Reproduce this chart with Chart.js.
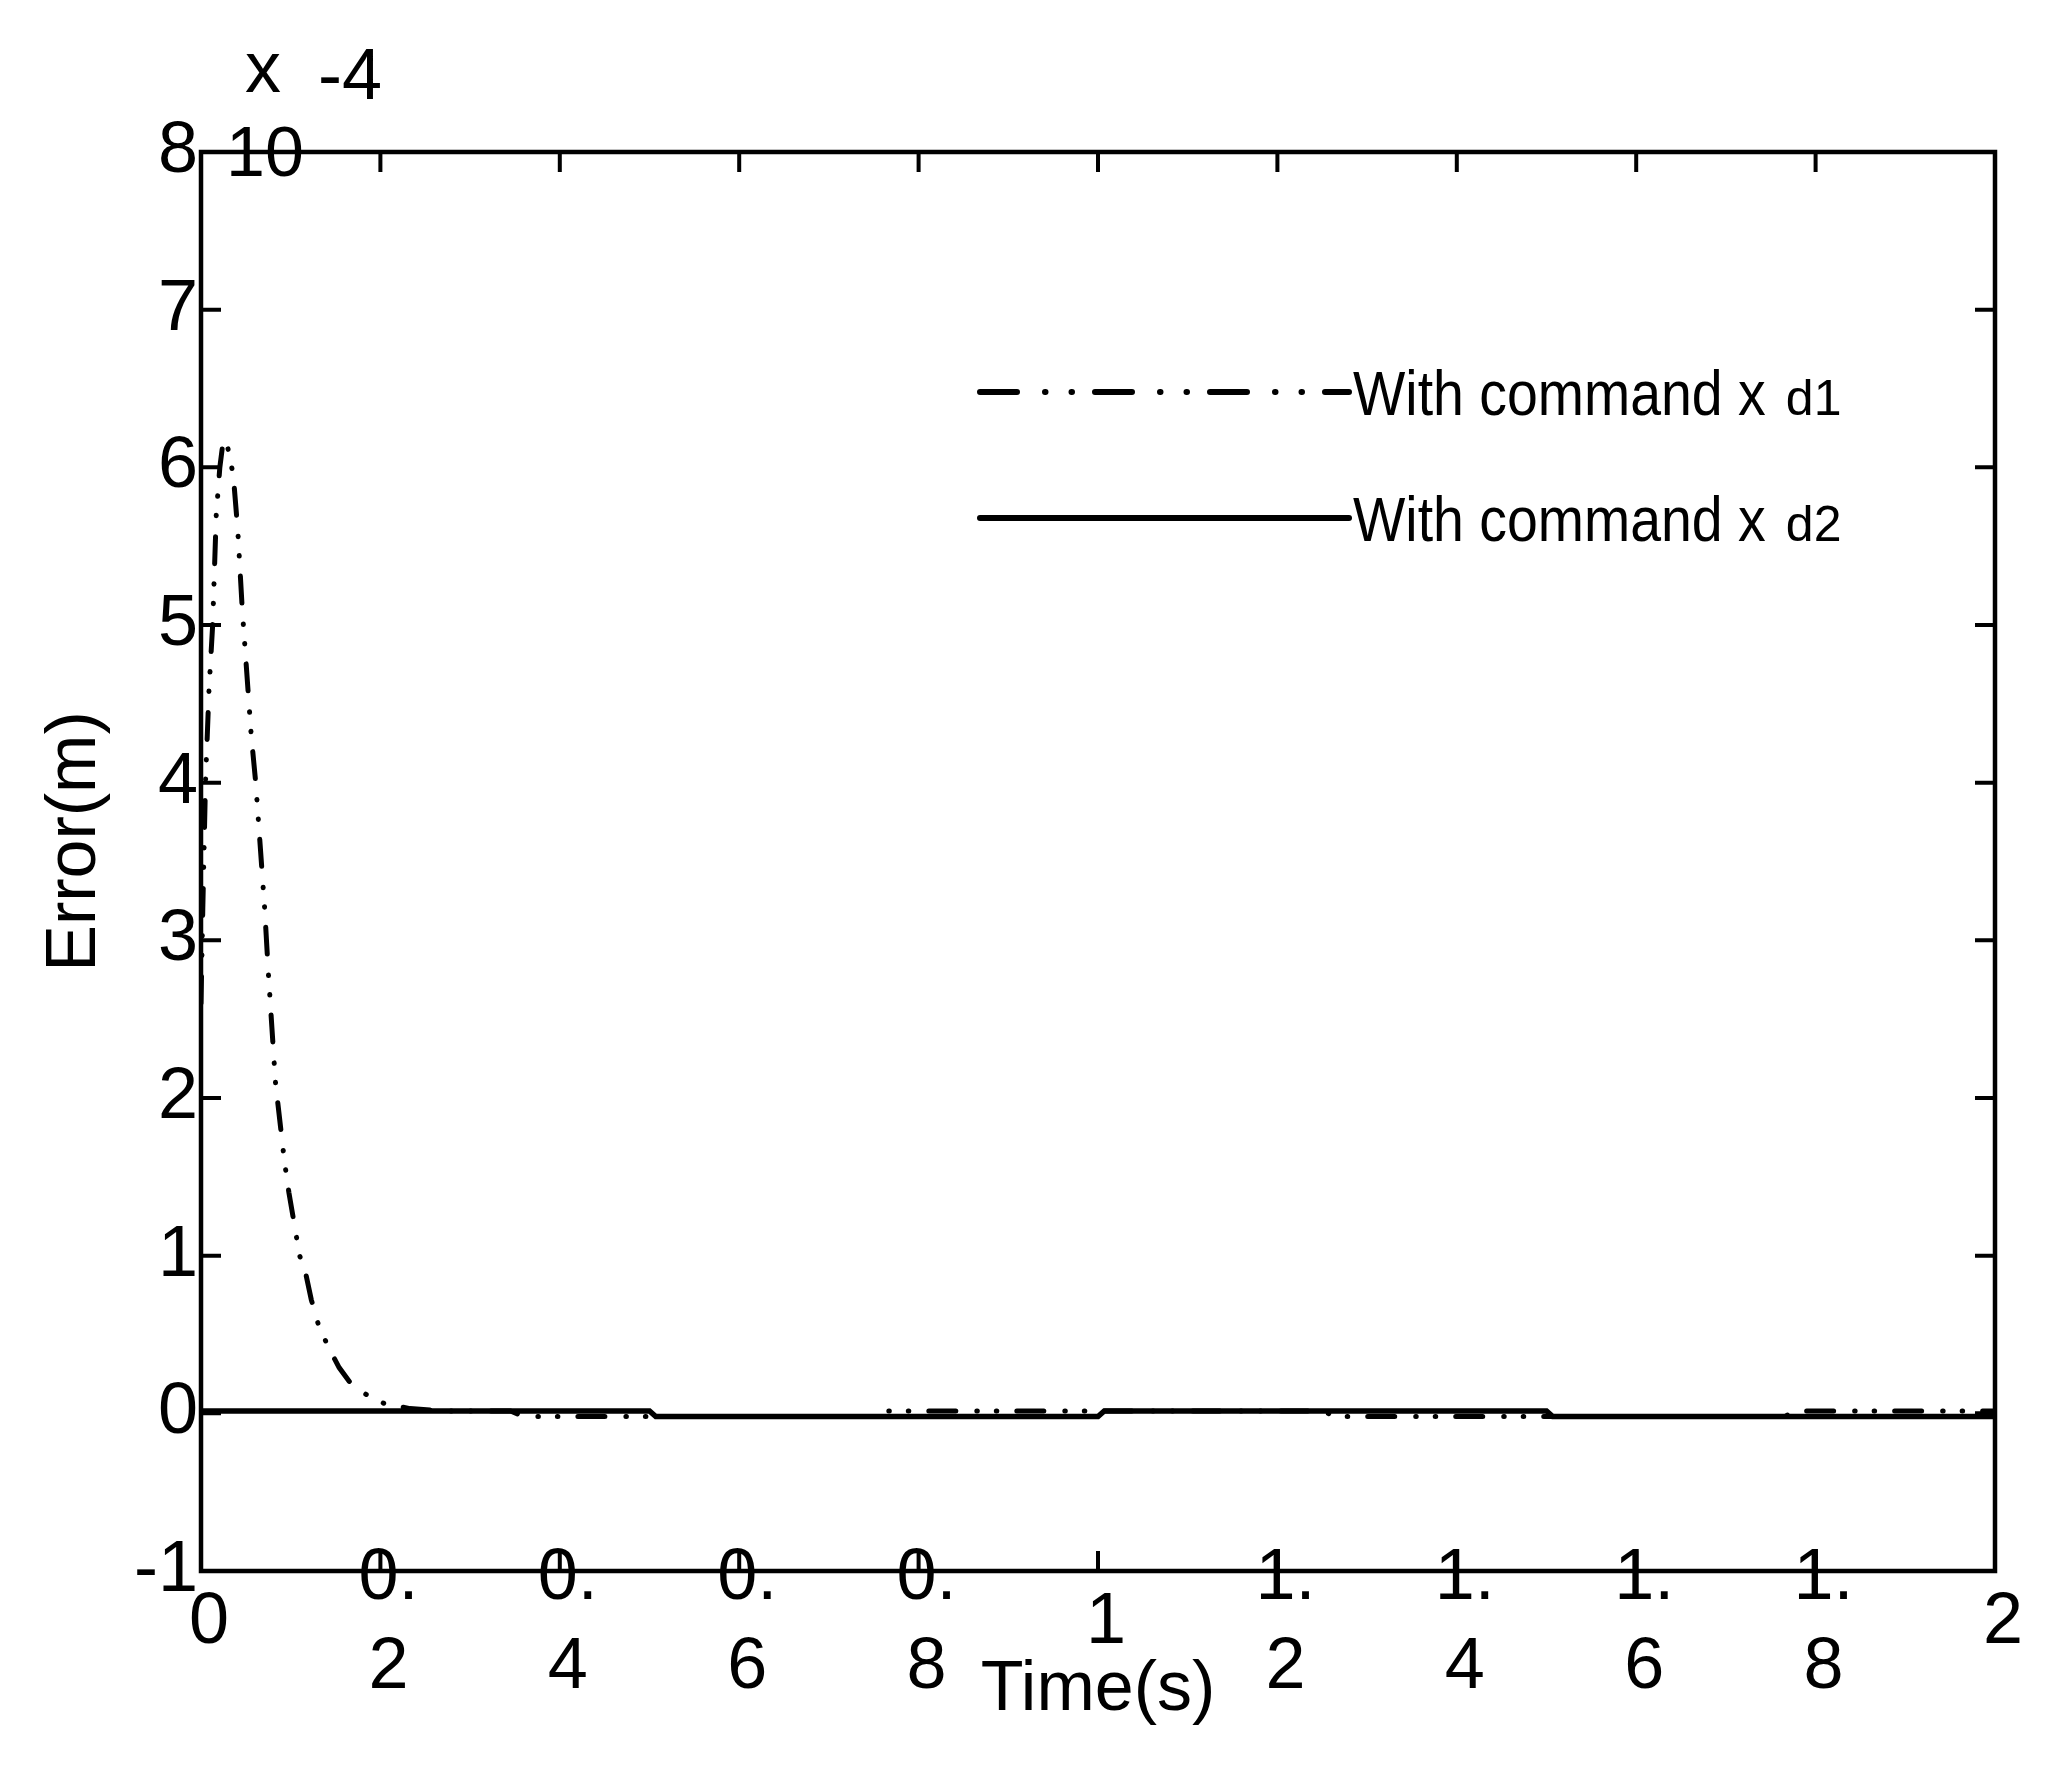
<!DOCTYPE html>
<html>
<head>
<meta charset="utf-8">
<title>Error(m)</title>
<script src="https://cdn.jsdelivr.net/npm/chart.js@4.4.1/dist/chart.umd.min.js"></script>
<style>
  html, body { margin: 0; padding: 0; background: #fff; }
  canvas { display: block; }
</style>
</head>
<body>
<canvas id="myChart" width="2057" height="1773"></canvas>
<script>
// --- values (error in units of 1e-4 m) ---
const timeXd1 = [0, 0.002, 0.005, 0.009, 0.013, 0.017, 0.021, 0.025, 0.030, 0.036,
                 0.041, 0.046, 0.051, 0.056, 0.061, 0.066, 0.071, 0.075, 0.079, 0.083,
                 0.088, 0.093, 0.098, 0.104, 0.110, 0.117, 0.123, 0.131, 0.142, 0.154,
                 0.167, 0.184, 0.205, 0.233, 0.27, 0.345, 0.36, 0.75, 0.765, 1.25,
                 1.265, 1.765, 1.78, 2.0];
const errXd1  = [2.6, 3.2, 4.0, 4.6, 5.0, 5.7, 6.0, 6.18, 6.12, 5.95,
                 5.6, 5.1, 4.7, 4.3, 4.0, 3.6, 3.2, 2.8, 2.45, 2.1,
                 1.85, 1.6, 1.4, 1.2, 1.0, 0.88, 0.72, 0.56, 0.42, 0.29,
                 0.19, 0.12, 0.06, 0.03, 0.015, 0.015, -0.02, -0.02, 0.015, 0.015,
                 -0.02, -0.02, 0.015, 0.015];

const timeXd2 = [0, 0.5, 0.507, 1.0, 1.007, 1.5, 1.507, 2.0];
const errXd2  = [0.015, 0.015, -0.02, -0.02, 0.015, 0.015, -0.02, -0.02];

// --- axes ---
const xTicks = [0, 0.2, 0.4, 0.6, 0.8, 1, 1.2, 1.4, 1.6, 1.8, 2];
const xTickLabels = [['0'], ['0.', '2'], ['0.', '4'], ['0.', '6'], ['0.', '8'], ['1'],
                     ['1.', '2'], ['1.', '4'], ['1.', '6'], ['1.', '8'], ['2']];
const yTicks = [-1, 0, 1, 2, 3, 4, 5, 6, 7, 8];

const seriesNames = ['With command x', 'With command x'];
const seriesSubs  = ['d1', 'd2'];

const FONT = "'Liberation Sans', Arial, Helvetica, sans-serif";
const dashPlot   = [27, 21, 0.5, 19, 0.5, 20];
const dashLegend = [37, 28, 0.5, 26, 0.5, 23];

const toPoints = (ts, vs) => ts.map((t, i) => ({ x: t, y: vs[i] }));

// --- frame, inside ticks, exponent, y title and legend drawn on the canvas ---
const decorPlugin = {
  id: 'decor',
  afterDraw(chart) {
    const { ctx, chartArea: a, scales: { x, y } } = chart;
    ctx.save();
    ctx.strokeStyle = '#000';
    ctx.fillStyle = '#000';

    // box
    ctx.lineWidth = 4.5;
    ctx.strokeRect(a.left, a.top, a.right - a.left, a.bottom - a.top);

    // inward ticks on all four sides
    ctx.lineWidth = 4;
    ctx.beginPath();
    xTicks.forEach(v => {
      const px = x.getPixelForValue(v);
      ctx.moveTo(px, a.bottom); ctx.lineTo(px, a.bottom - 20);
      ctx.moveTo(px, a.top);    ctx.lineTo(px, a.top + 20);
    });
    yTicks.forEach(v => {
      const py = y.getPixelForValue(v);
      ctx.moveTo(a.left, py);  ctx.lineTo(a.left + 20, py);
      ctx.moveTo(a.right, py); ctx.lineTo(a.right - 20, py);
    });
    ctx.stroke();

    // exponent label "x 10^-4" the way it shows in the figure
    ctx.font = '72px ' + FONT;
    ctx.textAlign = 'left';
    ctx.textBaseline = 'alphabetic';
    ctx.fillText('x', 245, 92);
    ctx.fillText('-4', 318, 99);
    ctx.font = '70px ' + FONT;
    ctx.fillText('10', 226, 176);

    // y axis title
    ctx.save();
    ctx.translate(76, (a.top + a.bottom) / 2 - 20);
    ctx.rotate(-Math.PI / 2);
    ctx.textAlign = 'center';
    ctx.textBaseline = 'middle';
    ctx.font = '70px ' + FONT;
    ctx.fillText('Error(m)', 0, 0);
    ctx.restore();

    // legend
    const rows = [392, 518];
    chart.data.datasets.forEach((ds, i) => {
      const ly = rows[i];
      ctx.save();
      ctx.lineWidth = 6;
      ctx.lineCap = 'round';
      ctx.setLineDash(ds.borderDash && ds.borderDash.length ? dashLegend : []);
      ctx.beginPath();
      ctx.moveTo(980, ly);
      ctx.lineTo(1349, ly);
      ctx.stroke();
      ctx.restore();

      ctx.save();
      ctx.translate(1353, ly + 23);
      ctx.font = '63px ' + FONT;
      const w = ctx.measureText(seriesNames[i]).width * 0.88;
      ctx.save();
      ctx.scale(0.88, 1);
      ctx.fillText(seriesNames[i], 0, 0);
      ctx.restore();
      ctx.font = '50px ' + FONT;
      ctx.fillText(seriesSubs[i], w + 20, 0);
      ctx.restore();
    });
    ctx.restore();
  }
};

const ctx = document.getElementById('myChart').getContext('2d');
const chart = new Chart(ctx, {
  type: 'line',
  data: {
    datasets: [{
      label: 'With command xd1',
      data: toPoints(timeXd1, errXd1),
      borderColor: '#000',
      borderWidth: 5,
      borderDash: dashPlot,
      borderCapStyle: 'round',
      pointRadius: 0,
      tension: 0
    }, {
      label: 'With command xd2',
      data: toPoints(timeXd2, errXd2),
      borderColor: '#000',
      borderWidth: 5.5,
      pointRadius: 0,
      tension: 0
    }]
  },
  options: {
    responsive: false,
    animation: false,
    devicePixelRatio: 1,
    layout: { padding: { top: 152, right: 62, bottom: 0, left: 0 } },
    plugins: {
      legend: { display: false },
      tooltip: { enabled: false }
    },
    scales: {
      x: {
        type: 'linear',
        min: 0,
        max: 2,
        afterBuildTicks: s => { s.ticks = xTicks.map(v => ({ value: v })); },
        afterFit: s => {
          s.height = 202;
          s._computeLabelArea = () => null;   // labels overlap the frame in the figure
        },
        grid: { display: false, drawTicks: false },
        border: { display: false },
        ticks: {
          autoSkip: false,
          maxRotation: 0,
          minRotation: 0,
          crossAlign: 'center',
          padding: 8,
          labelOffset: 8,
          color: '#000',
          font: { family: FONT, size: 72, lineHeight: 1.24 },
          callback: (v, i) => xTickLabels[i]
        },
        title: {
          display: true,
          text: 'Time(s)',
          color: '#000',
          font: { family: FONT, size: 70, lineHeight: 1.2 },
          padding: { top: 0, bottom: 40 }
        }
      },
      y: {
        min: -1,
        max: 8,
        afterBuildTicks: s => { s.ticks = yTicks.map(v => ({ value: v })); },
        afterFit: s => { s.width = 201; },
        grid: { display: false, drawTicks: false },
        border: { display: false },
        ticks: {
          padding: 3,
          color: '#000',
          font: { family: FONT, size: 72 }
        }
      }
    }
  },
  plugins: [decorPlugin]
});
</script>
</body>
</html>
